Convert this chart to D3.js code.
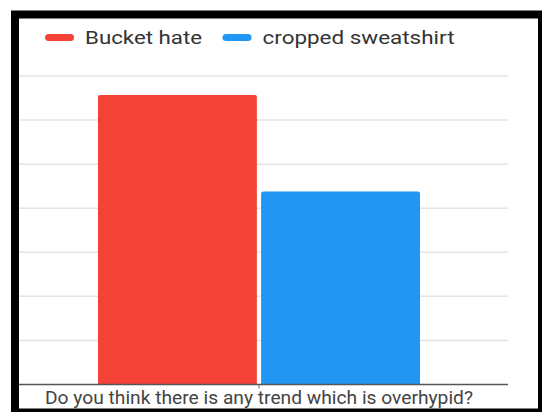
<!DOCTYPE html>
<html>
<head>
<meta charset="utf-8">
<script src="https://cdn.jsdelivr.net/npm/d3@7"></script>
<style>
  html, body { margin: 0; padding: 0; background: #fff; }
  svg { display: block; font-family: Roboto, "Noto Sans", sans-serif; }
</style>
</head>
<body>
<svg id="chart" width="542" height="412"></svg>
<script>
// Survey question and answer series
const categories = ["Do you think there is any trend which is overhypid?"];
const seriesNames = ["Bucket hate", "cropped sweatshirt"];
const seriesValues = [65.7, 43.8];
const seriesColors = ["#F44336", "#2196F3"];
const yTicks = [0, 10, 20, 30, 40, 50, 60, 70];

const svg = d3.select("#chart");
const W = 542, H = 412;

// Frame around the card
svg.append("rect").attr("x", 0).attr("y", 0).attr("width", W).attr("height", H).attr("fill", "#fff");
svg.append("rect").attr("x", 11).attr("y", 10.5).attr("width", 531).attr("height", 401.5).attr("fill", "#000");
svg.append("rect").attr("x", 19).attr("y", 18.5).attr("width", 519).attr("height", 390).attr("fill", "#fff");

const plot = { left: 19, right: 508, top: 76, bottom: 384.5 };

const y = d3.scaleLinear().domain([0, 70]).range([plot.bottom, plot.top]);

const x0 = d3.scaleBand().domain(categories).range([19, 499]).paddingOuter(0.2453).paddingInner(0);
const x1 = d3.scaleBand().domain(seriesNames).range([0, x0.bandwidth()]).paddingInner(0.026);

// Horizontal grid
svg.append("g")
  .selectAll("line")
  .data(yTicks.filter(t => t > 0))
  .join("line")
  .attr("x1", plot.left).attr("x2", plot.right)
  .attr("y1", d => y(d)).attr("y2", d => y(d))
  .attr("stroke", "#e4e4e4").attr("stroke-width", 1.5);

// Bars with slightly rounded tops
const r = 2;
const g = svg.append("g").attr("transform", `translate(${x0(categories[0])},0)`);
g.selectAll("path")
  .data(seriesNames.map((n, i) => ({ name: n, value: seriesValues[i], color: seriesColors[i] })))
  .join("path")
  .attr("fill", d => d.color)
  .attr("d", d => {
    const bx = x1(d.name), bw = x1.bandwidth();
    const ty = y(d.value), by = y(0);
    return `M${bx},${by}V${ty + r}Q${bx},${ty} ${bx + r},${ty}H${bx + bw - r}Q${bx + bw},${ty} ${bx + bw},${ty + r}V${by}Z`;
  });

// Category axis
const xAxis = d3.axisBottom(x0).tickSize(4).tickFormat("");
const ax = svg.append("g").attr("transform", `translate(0,${plot.bottom})`).call(xAxis);
ax.select(".domain").remove();
ax.selectAll(".tick line").attr("stroke", "#777").attr("stroke-width", 1);
svg.append("line")
  .attr("x1", plot.left).attr("x2", plot.right)
  .attr("y1", plot.bottom).attr("y2", plot.bottom)
  .attr("stroke", "#555").attr("stroke-width", 1.5);

svg.append("text")
  .attr("x", 45).attr("y", 404)
  .attr("fill", "#444").attr("font-size", 17.5)
  .attr("textLength", 428).attr("lengthAdjust", "spacingAndGlyphs")
  .text(categories[0]);

// Legend
const legendX = [45, 222.5];
const legendTextW = [117, 192];
const leg = svg.append("g");
seriesNames.forEach((n, i) => {
  leg.append("rect")
    .attr("x", legendX[i]).attr("y", 34).attr("width", 29).attr("height", 7).attr("rx", 3.5)
    .attr("fill", seriesColors[i]);
  leg.append("text")
    .attr("x", legendX[i] + 40).attr("y", 44)
    .attr("fill", "#333").attr("font-size", 18.5)
    .attr("textLength", legendTextW[i]).attr("lengthAdjust", "spacingAndGlyphs")
    .text(n);
});
</script>
</body>
</html>
